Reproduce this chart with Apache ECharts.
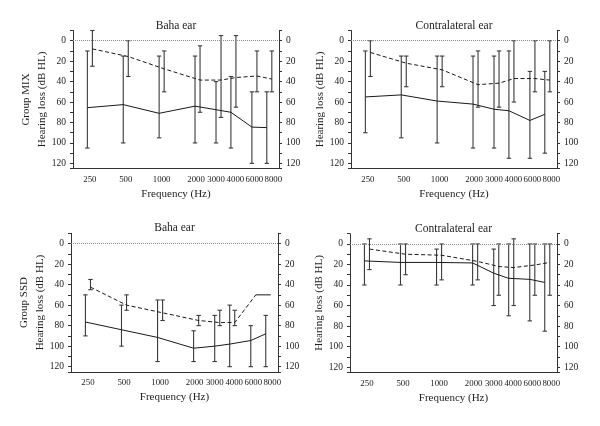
<!DOCTYPE html>
<html><head><meta charset="utf-8">
<script src="https://cdn.jsdelivr.net/npm/echarts@6/dist/echarts.min.js"></script>
<style>html,body{margin:0;padding:0;background:#fff}#c{width:600px;height:426px}</style>
</head><body><div id="c"></div>
<script>
// ---- data ----
const freqs = [250, 500, 1000, 2000, 3000, 4000, 6000, 8000];
const freqLabels = ['250', '500', '1000', '2000', '3000', '4000', '6000', '8000'];
const yTickLabels = [0, 20, 40, 60, 80, 100, 120];

// Group MIX, Baha ear
const mixBahaSolidMean = [65.5, 62.5, 71, 64, 67.5, 70, 84.5, 85];
const mixBahaSolidLow  = [10, 15, 15, 15, 40, 35, 50, 50];
const mixBahaSolidHigh = [105, 100, 95, 100, 100, 105, 120, 120];
const mixBahaDashMean  = [8, 15.5, 27.5, 38.5, 38.5, 36, 34.5, 37.5];
const mixBahaDashLow   = [-10, 0, 10, 5, -5, -5, 10, 10];
const mixBahaDashHigh  = [25, 35, 50, 70, 75, 65, 50, 50];

// Group MIX, Contralateral ear
const mixContraSolidMean = [55, 53, 59, 62, 67, 68.5, 78, 72];
const mixContraSolidLow  = [10, 15, 15, 15, 15, 10, 30, 30];
const mixContraSolidHigh = [90, 95, 100, 105, 105, 115, 115, 110];
const mixContraDashMean  = [11.5, 22, 28.5, 43, 41.5, 37, 37, 38.5];
const mixContraDashLow   = [0, 15, 15, 10, 10, 0, 0, 0];
const mixContraDashHigh  = [35, 45, 45, 65, 65, 60, 50, 50];

// Group SSD, Baha ear
const ssdBahaSolidMean = [76.5, 84, 91.5, 102, 100, 98, 94.5, 88];
const ssdBahaSolidLow  = [50, 60, 55, 85, 70, 60, 80, 70];
const ssdBahaSolidHigh = [90, 100, 115, 115, 115, 120, 120, 120];
const ssdBahaDashMean  = [42.5, 60, 67.5, 75, 77, 77, 50, 50];
const ssdBahaDashLow   = [35, 50, 55, 70, 65, 65, null, null];
const ssdBahaDashHigh  = [45, 65, 75, 80, 80, 80, null, null];

// Group SSD, Contralateral ear
const ssdContraSolidMean = [16.5, 18, 18, 18.5, 28.5, 33.5, 34.5, 37.5];
const ssdContraSolidLow  = [0, 0, 5, 0, 5, 0, 0, 0];
const ssdContraSolidHigh = [40, 40, 40, 40, 60, 70, 75, 85];
const ssdContraDashMean  = [5, 10, 11, 17, 22, 23, 20.5, 18];
const ssdContraDashLow   = [-5, 0, 0, 0, 0, -5, 0, 0];
const ssdContraDashHigh  = [25, 30, 35, 35, 50, 60, 50, 50];

// ---- layout / style ----
const FONT = 'Liberation Serif';
const INK = '#1a1a1a';
const BAR = '#3a3a3a';
const DX = 0.07; // horizontal offset (octaves) between paired error bars
const lg = f => Math.log2(f);
const xMin = lg(250) - 0.47, xMax = lg(250) + 5.27;
// small horizontal nudges (px of padding; + = left pad, - = right pad) of crowded tick labels
const labelPad = [0, 0, 0, -3, -5, 4, 0, 8];

const panels = [
  { title: 'Baha ear', group: 'Group MIX', grid: {left: 73, top: 30.5, width: 206, height: 138},
    s: [mixBahaSolidMean, mixBahaSolidLow, mixBahaSolidHigh], d: [mixBahaDashMean, mixBahaDashLow, mixBahaDashHigh] },
  { title: 'Contralateral ear', group: null, grid: {left: 351, top: 30.5, width: 206, height: 138},
    s: [mixContraSolidMean, mixContraSolidLow, mixContraSolidHigh], d: [mixContraDashMean, mixContraDashLow, mixContraDashHigh] },
  { title: 'Baha ear', group: 'Group SSD', grid: {left: 71, top: 233.3, width: 207, height: 138.5},
    s: [ssdBahaSolidMean, ssdBahaSolidLow, ssdBahaSolidHigh], d: [ssdBahaDashMean, ssdBahaDashLow, ssdBahaDashHigh], solidTailFrom: 6 },
  { title: 'Contralateral ear', group: null, grid: {left: 350, top: 233.7, width: 207, height: 138.5},
    s: [ssdContraSolidMean, ssdContraSolidLow, ssdContraSolidHigh], d: [ssdContraDashMean, ssdContraDashLow, ssdContraDashHigh] }
];

function errBar(params, api) {
  const x = api.value(0), lo = api.value(1), hi = api.value(2);
  const a = api.coord([x, lo]), b = api.coord([x, hi]);
  const cw = 2.2;
  const style = {stroke: BAR, lineWidth: 1.1};
  return {type: 'group', children: [
    {type: 'line', shape: {x1: a[0], y1: a[1], x2: b[0], y2: b[1]}, style},
    {type: 'line', shape: {x1: a[0] - cw, y1: a[1], x2: a[0] + cw, y2: a[1]}, style},
    {type: 'line', shape: {x1: b[0] - cw, y1: b[1], x2: b[0] + cw, y2: b[1]}, style}
  ]};
}

const rich = {};
labelPad.forEach((p, k) => {
  rich['s' + k] = {fontFamily: FONT, fontSize: 8.8, color: '#222',
    padding: p >= 0 ? [0, 0, 0, p] : [0, -p, 0, 0]};
});

const grid = [], xAxis = [], yAxis = [], series = [], graphic = [];
const yBase = {
  type: 'value', min: -10, max: 125, interval: 10, inverse: true,
  axisLine: {show: true, lineStyle: {color: '#333', width: 1}},
  axisTick: {show: true, inside: false, length: 3, lineStyle: {color: '#333'}},
  axisLabel: {margin: 7, fontFamily: FONT, fontSize: 9.5, color: '#222',
    formatter: v => yTickLabels.includes(v) ? String(v) : ''},
  splitLine: {show: false}
};

panels.forEach((p, i) => {
  grid.push(Object.assign({containLabel: false}, p.grid));
  xAxis.push({
    type: 'value', gridIndex: i, min: xMin, max: xMax,
    axisLine: {show: true, onZero: false, lineStyle: {color: '#333', width: 1}},
    axisTick: {show: false},
    splitLine: {show: false},
    axisLabel: {customValues: freqs.map(lg), margin: 6.5, fontFamily: FONT, fontSize: 8.8, color: '#222',
      hideOverlap: false, showMinLabel: true, showMaxLabel: true, rich,
      formatter: v => { let k = 0; freqs.forEach((f, j) => { if (Math.abs(lg(f) - v) < Math.abs(lg(freqs[k]) - v)) k = j; });
        return '{s' + k + '|' + freqLabels[k] + '}'; }},
    name: 'Frequency (Hz)', nameLocation: 'middle', nameGap: 20,
    nameTextStyle: {fontFamily: FONT, fontSize: 11, color: '#222'}
  });
  yAxis.push(Object.assign({}, yBase, {gridIndex: i, position: 'left',
    name: 'Hearing loss (dB HL)', nameLocation: 'middle', nameRotate: 90, nameGap: 25,
    nameTextStyle: {fontFamily: FONT, fontSize: 11, color: '#222'}}));
  yAxis.push(Object.assign({}, yBase, {gridIndex: i, position: 'right'}));

  const xi = i, yi = 2 * i;
  const sData = freqs.map((f, j) => [lg(f) - DX, p.s[0][j]]);
  const dIdx = freqs.map((f, j) => j).filter(j => p.solidTailFrom === undefined || j <= p.solidTailFrom);
  const dData = dIdx.map(j => [lg(freqs[j]) + DX, p.d[0][j]]);
  const sBars = freqs.map((f, j) => [lg(f) - DX, p.s[1][j], p.s[2][j]]).filter(r => r[1] !== null);
  const dBars = freqs.map((f, j) => [lg(f) + DX, p.d[1][j], p.d[2][j]]).filter(r => r[1] !== null);

  series.push({type: 'custom', xAxisIndex: xi, yAxisIndex: yi, renderItem: errBar, data: sBars,
    encode: {x: 0, y: [1, 2]}, silent: true, z: 2});
  series.push({type: 'custom', xAxisIndex: xi, yAxisIndex: yi, renderItem: errBar, data: dBars,
    encode: {x: 0, y: [1, 2]}, silent: true, z: 2});
  series.push({type: 'line', xAxisIndex: xi, yAxisIndex: yi, data: sData, symbol: 'none', silent: true, z: 3,
    lineStyle: {color: INK, width: 1},
    markLine: {silent: true, symbol: 'none', label: {show: false}, animation: false,
      lineStyle: {type: 'dotted', color: '#8a8a8a', width: 1}, data: [{yAxis: 0}]}});
  series.push({type: 'line', xAxisIndex: xi, yAxisIndex: yi, data: dData, symbol: 'none', silent: true, z: 3,
    lineStyle: {color: INK, width: 1, type: [4, 2.5]}});
  if (p.solidTailFrom !== undefined) {
    const tIdx = freqs.map((f, j) => j).filter(j => j >= p.solidTailFrom);
    series.push({type: 'line', xAxisIndex: xi, yAxisIndex: yi, symbol: 'none', silent: true, z: 3,
      data: tIdx.map(j => [lg(freqs[j]) + DX, p.d[0][j]]), lineStyle: {color: INK, width: 1}});
  }

  const cx = p.grid.left + p.grid.width / 2;
  const cy = p.grid.top + p.grid.height / 2;
  graphic.push({type: 'text', x: cx, y: p.grid.top - 5, silent: true,
    style: {text: p.title, align: 'center', verticalAlign: 'middle', font: '11.5px "Liberation Serif"', fill: '#222'}});
  if (p.group) {
    graphic.push({type: 'text', x: p.grid.left - 46.5, y: cy, rotation: Math.PI / 2, silent: true,
      style: {text: p.group, align: 'center', verticalAlign: 'middle', font: '11px "Liberation Serif"', fill: '#222'}});
  }
});

const chart = echarts.init(document.getElementById('c'), null, {renderer: 'canvas'});
chart.setOption({animation: false, backgroundColor: '#fff', grid, xAxis, yAxis, series, graphic});
</script>
</body></html>
